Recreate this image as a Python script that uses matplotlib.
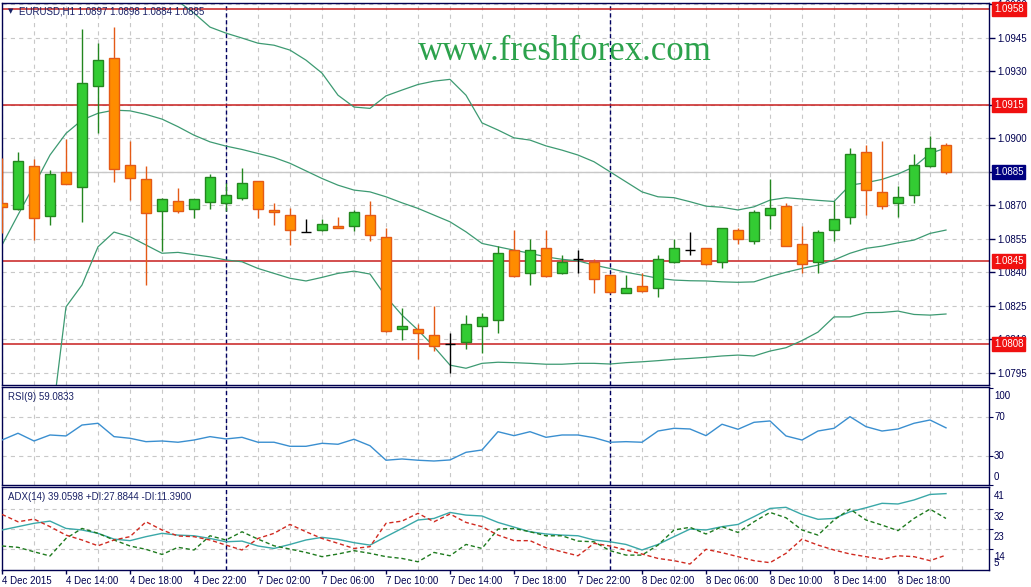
"""
EURUSD H1 chart: candles + Bollinger bands, RSI(9) and ADX(14) sub-windows.
Output: out.png
"""

import numpy as np
import matplotlib
matplotlib.use('Agg')
import matplotlib.pyplot as plt

W, H, DPI = 1031, 587, 100
NAVY = '#000050'
GRID = '#C8C8C8'
UI_FONT = 'Liberation Sans'

plt.rcParams['lines.scale_dashes'] = False
plt.rcParams['font.family'] = [UI_FONT, 'DejaVu Sans']

# ── data ─────────────────────────────────────────────────────────────────────
opens = [1.08711, 1.08684, 1.08876, 1.08653, 1.08849, 1.08783, 1.09235, 1.09358, 1.08879, 1.08816,
         1.08675, 1.08717, 1.08684, 1.08716, 1.08709, 1.08734, 1.08807, 1.08677, 1.08655, 1.08580,
         1.08588, 1.08606, 1.08606, 1.08655, 1.08556, 1.08144, 1.08144, 1.08117, 1.08078, 1.08086,
         1.08158, 1.08185, 1.08499, 1.08395, 1.08507, 1.08395, 1.08458, 1.08446, 1.08386, 1.08306,
         1.08337, 1.08328, 1.08444, 1.08499, 1.08507, 1.08444, 1.08588, 1.08538, 1.08655, 1.08695,
         1.08525, 1.08444, 1.08588, 1.08646, 1.08937, 1.08758, 1.08709, 1.08744, 1.08876, 1.08970]
highs = [1.08910, 1.08940, 1.08906, 1.08858, 1.08996, 1.09489, 1.09428, 1.09499, 1.08987, 1.08876,
         1.08731, 1.08776, 1.08729, 1.08840, 1.08798, 1.08867, 1.08808, 1.08710, 1.08686, 1.08638,
         1.08637, 1.08647, 1.08679, 1.08719, 1.08597, 1.08240, 1.08168, 1.08249, 1.08126, 1.08208,
         1.08216, 1.08519, 1.08589, 1.08547, 1.08589, 1.08476, 1.08499, 1.08458, 1.08387, 1.08387,
         1.08395, 1.08476, 1.08549, 1.08580, 1.08508, 1.08598, 1.08597, 1.08679, 1.08817, 1.08710,
         1.08607, 1.08588, 1.08717, 1.08955, 1.08970, 1.08987, 1.08787, 1.08929, 1.09010, 1.08980]
lows = [1.08577, 1.08680, 1.08544, 1.08613, 1.08794, 1.08626, 1.09025, 1.08804, 1.08723, 1.08343,
        1.08495, 1.08666, 1.08644, 1.08684, 1.08675, 1.08723, 1.08644, 1.08613, 1.08522, 1.08580,
        1.08587, 1.08596, 1.08586, 1.08538, 1.08134, 1.08095, 1.08013, 1.08046, 1.07947, 1.08055,
        1.08037, 1.08126, 1.08377, 1.08343, 1.08377, 1.08394, 1.08395, 1.08306, 1.08306, 1.08305,
        1.08313, 1.08288, 1.08443, 1.08476, 1.08434, 1.08417, 1.08525, 1.08525, 1.08595, 1.08516,
        1.08395, 1.08395, 1.08538, 1.08614, 1.08655, 1.08684, 1.08646, 1.08709, 1.08870, 1.08840]
closes = [1.08693, 1.08898, 1.08644, 1.08840, 1.08796, 1.09247, 1.09350, 1.08863, 1.08823, 1.08666,
          1.08726, 1.08675, 1.08726, 1.08825, 1.08746, 1.08798, 1.08684, 1.08668, 1.08588, 1.08580,
          1.08614, 1.08597, 1.08668, 1.08565, 1.08135, 1.08159, 1.08126, 1.08068, 1.08078, 1.08168,
          1.08198, 1.08485, 1.08384, 1.08498, 1.08384, 1.08446, 1.08458, 1.08368, 1.08313, 1.08328,
          1.08314, 1.08458, 1.08507, 1.08499, 1.08435, 1.08597, 1.08547, 1.08668, 1.08686, 1.08516,
          1.08435, 1.08579, 1.08637, 1.08928, 1.08767, 1.08695, 1.08735, 1.08879, 1.08955, 1.08850]

nan = np.nan
bb_upper = [nan, nan, nan, nan, nan, nan, nan, nan, nan, nan,
            1.09686, 1.09614, 1.09561, 1.09498, 1.09471, 1.09449, 1.09426, 1.09417, 1.09395, 1.09350,
            1.09292, 1.09193, 1.09140, 1.09134, 1.09190, 1.09216, 1.09241, 1.09256, 1.09264, 1.09193,
            1.09069, 1.09037, 1.09002, 1.08992, 1.08966, 1.08947, 1.08925, 1.08895, 1.08850, 1.08805,
            1.08760, 1.08738, 1.08734, 1.08716, 1.08696, 1.08691, 1.08679, 1.08693, 1.08723, 1.08734,
            1.08728, 1.08722, 1.08717, 1.08790, 1.08801, 1.08816, 1.08840, 1.08872, 1.08932, 1.08957]
bb_middle = [1.08522, 1.08657, 1.08789, 1.08925, 1.09022, 1.09082, 1.09112, 1.09126, 1.09123, 1.09107,
             1.09086, 1.09052, 1.09014, 1.08984, 1.08965, 1.08950, 1.08932, 1.08914, 1.08888, 1.08854,
             1.08820, 1.08790, 1.08768, 1.08760, 1.08738, 1.08711, 1.08686, 1.08656, 1.08626, 1.08581,
             1.08529, 1.08514, 1.08499, 1.08485, 1.08469, 1.08458, 1.08451, 1.08432, 1.08417, 1.08400,
             1.08387, 1.08373, 1.08365, 1.08362, 1.08361, 1.08357, 1.08355, 1.08357, 1.08380, 1.08400,
             1.08417, 1.08432, 1.08455, 1.08485, 1.08507, 1.08517, 1.08532, 1.08544, 1.08574, 1.08589]
bb_lower = [nan, nan, nan, 1.07662, 1.08245, 1.08343, 1.08514, 1.08580, 1.08559, 1.08522,
            1.08485, 1.08489, 1.08479, 1.08469, 1.08455, 1.08447, 1.08417, 1.08395, 1.08373, 1.08361,
            1.08377, 1.08395, 1.08405, 1.08392, 1.08290, 1.08208, 1.08141, 1.08066, 1.07984, 1.07970,
            1.07992, 1.07997, 1.07995, 1.07992, 1.07988, 1.07988, 1.07992, 1.07992, 1.07989, 1.07995,
            1.07999, 1.08004, 1.08010, 1.08014, 1.08019, 1.08025, 1.08029, 1.08025, 1.08047, 1.08062,
            1.08094, 1.08132, 1.08200, 1.08200, 1.08219, 1.08220, 1.08226, 1.08211, 1.08208, 1.08213]

rsi = [46.5, 53.5, 45.5, 51.7, 50.7, 62.0, 63.8, 50.0, 48.3, 44.8,
       45.5, 44.2, 46.5, 50.0, 47.6, 49.3, 44.2, 44.2, 40.0, 40.0,
       43.1, 42.1, 47.3, 40.6, 25.6, 26.9, 25.6, 24.8, 25.9, 33.8,
       36.2, 55.1, 51.0, 55.1, 49.3, 51.7, 51.7, 48.9, 44.2, 44.8,
       44.2, 55.8, 58.6, 57.9, 51.0, 62.8, 57.6, 64.8, 66.2, 50.7,
       46.5, 55.8, 58.6, 70.6, 60.3, 55.8, 57.9, 63.8, 67.2, 59.1]

adx = [22.7, 24.2, 25.7, 26.7, 23.4, 22.7, 21.2, 18.6, 17.9, 19.7,
       21.2, 20.4, 20.1, 18.9, 17.4, 17.7, 15.5, 14.4, 16.2, 18.2,
       19.4, 18.5, 17.0, 15.9, 19.7, 23.4, 27.2, 27.9, 30.6, 29.4,
       29.0, 26.1, 24.0, 21.9, 20.9, 20.4, 20.1, 18.2, 17.4, 16.2,
       13.7, 16.2, 19.7, 23.1, 22.7, 24.2, 25.2, 28.7, 32.4, 32.9,
       29.7, 27.5, 27.9, 30.9, 32.7, 34.7, 34.4, 36.2, 38.7, 39.06]
plus_di = [15.5, 14.9, 12.9, 11.0, 18.9, 23.4, 21.2, 18.2, 15.5, 14.0,
           11.7, 14.9, 13.7, 20.1, 18.2, 21.9, 18.6, 15.6, 14.1, 12.6,
           10.7, 11.9, 13.4, 12.2, 10.7, 9.9, 8.4, 12.6, 11.1, 16.2,
           14.4, 23.1, 23.4, 21.9, 20.1, 20.1, 17.7, 17.4, 13.4, 11.4,
           11.4, 15.9, 22.7, 23.9, 20.9, 24.2, 21.6, 26.4, 30.6, 28.2,
           22.7, 20.4, 27.2, 32.1, 27.2, 24.9, 22.4, 27.9, 32.1, 27.88]
minus_di = [29.7, 26.4, 27.6, 24.2, 20.4, 18.2, 15.6, 18.2, 19.7, 26.4,
            22.7, 20.0, 19.7, 18.2, 15.9, 13.7, 18.9, 21.2, 25.2, 21.9,
            18.9, 16.7, 14.4, 15.2, 25.7, 26.7, 30.2, 26.4, 29.9, 26.1,
            24.2, 20.4, 17.9, 17.9, 14.7, 12.9, 11.1, 16.7, 15.5, 13.7,
            11.9, 9.9, 8.9, 7.4, 14.0, 12.5, 10.7, 8.9, 8.0, 12.2,
            18.6, 15.9, 13.7, 11.9, 10.7, 9.5, 11.1, 10.7, 8.9, 11.39]

time_ticks = [0, 4, 8, 12, 16, 20, 24, 28, 32, 36, 40, 44, 48, 52, 56]
time_labels = ['4 Dec 2015', '4 Dec 14:00', '4 Dec 18:00', '4 Dec 22:00',
               '7 Dec 02:00', '7 Dec 06:00', '7 Dec 10:00', '7 Dec 14:00',
               '7 Dec 18:00', '7 Dec 22:00', '8 Dec 02:00', '8 Dec 06:00',
               '8 Dec 10:00', '8 Dec 14:00', '8 Dec 18:00']
day_breaks = [14, 38]

levels = [1.0958, 1.0915, 1.0845, 1.0808]
bid = 1.0885
price_ticks = [1.0795 + 0.0015 * i for i in range(12)]

rsi_ticks = [100, 70, 30, 0]
adx_ticks = [41, 32, 23, 14, 5]


def px_axes(top, bottom, left=1.5, right=989):
    return [left / W, 1 - bottom / H, (right - left) / W, (bottom - top) / H]


fig = plt.figure(figsize=(W / DPI, H / DPI), dpi=DPI)
fig.patch.set_facecolor('white')

ax = fig.add_axes(px_axes(3, 385))
ax_rsi = fig.add_axes(px_axes(387, 485))
ax_adx = fig.add_axes(px_axes(487, 570))

x = np.arange(len(opens))
x_lim = (-0.5 / 16, (989 - 2) / 16)

for a in (ax, ax_rsi, ax_adx):
    a.set_xlim(*x_lim)
    a.set_facecolor('white')
    for s in a.spines.values():
        s.set_color(NAVY)
        s.set_linewidth(1)
    a.set_xticks(np.arange(0, 62, 2), minor=True)
    a.grid(True, which='minor', axis='x', color=GRID, linestyle=(0, (3, 3)), linewidth=0.8)
    a.tick_params(axis='x', which='minor', length=0)
    a.set_axisbelow(True)
    for d in day_breaks:
        a.axvline(d, color='#000060', linestyle=(0, (3, 2)), linewidth=1, zorder=1.5)

# ── main panel ───────────────────────────────────────────────────────────────
ax.set_ylim(1.07895, 1.09606)
ax.yaxis.tick_right()
ax.set_yticks(price_ticks)
# labels that sit fully under a level box are left blank, as on the terminal
hidden = {f'{lv:.4f}' for lv in (1.0915, bid)}
ax.set_yticklabels(['' if f'{p:.4f}' in hidden else f'{p:.4f}' for p in price_ticks])
ax.tick_params(axis='y', direction='out', length=4, width=1, pad=2,
               colors=NAVY, labelsize=7)
ax.set_xticks([])
ax.grid(True, which='major', axis='y', color=GRID, linestyle=(0, (3, 3)), linewidth=0.8)
ax.axhline(bid, color=GRID, linewidth=1, zorder=1.2)

for lv in levels:
    ax.axhline(lv, color='#C81E1E', linewidth=1.1, zorder=1.6)

ax.plot(x, bb_upper, color='#3D9A72', linewidth=0.9, zorder=2)
ax.plot(x, bb_middle, color='#3D9A72', linewidth=0.9, zorder=2)
ax.plot(x, bb_lower, color='#3D9A72', linewidth=0.9, zorder=2)

o, hi, lo, c = map(np.array, (opens, highs, lows, closes))
up = c > o
dn = c < o
dj = c == o
ax.vlines(x[up], lo[up], hi[up], color='#23861F', linewidth=1, zorder=3)
ax.vlines(x[dn], lo[dn], hi[dn], color='#E45A16', linewidth=1, zorder=3)
ax.vlines(x[dj], lo[dj], hi[dj], color='black', linewidth=1, zorder=3)
ax.bar(x[up], c[up] - o[up], bottom=o[up], width=0.6, color='#33CC33',
       edgecolor='#23861F', linewidth=1, zorder=4)
ax.bar(x[dn], o[dn] - c[dn], bottom=c[dn], width=0.6, color='#FF8C00',
       edgecolor='#E45A16', linewidth=1, zorder=4)
ax.hlines(o[dj], x[dj] - 0.3, x[dj] + 0.3, color='black', linewidth=1, zorder=4)

for lv in levels:
    ax.annotate(f'{lv:.4f}', xy=(1, lv), xycoords=('axes fraction', 'data'),
                xytext=(5, 0), textcoords='offset pixels', ha='left', va='center',
                fontsize=7, color='white', zorder=10, annotation_clip=False,
                bbox=dict(boxstyle='square,pad=0.2', facecolor='#F01010', edgecolor='#F01010'))
ax.annotate(f'{bid:.4f}', xy=(1, bid), xycoords=('axes fraction', 'data'),
            xytext=(5, 0), textcoords='offset pixels', ha='left', va='center',
            fontsize=7, color='white', zorder=10, annotation_clip=False,
            bbox=dict(boxstyle='square,pad=0.2', facecolor='#000080', edgecolor='#000080'))

ax.text(17 / 987, 1 - 8.7 / 382, 'EURUSD,H1 1.0897 1.0898 1.0884 1.0885', transform=ax.transAxes,
        ha='left', va='center', fontsize=7, color='#1A2266')
ax.text(9 / 987, 1 - 8.5 / 382, '\u25BC', transform=ax.transAxes, ha='center', va='center',
        fontsize=5, color='#1A2266', family='DejaVu Sans')

fig.text(564.5 / W, 1 - 60 / H, 'www.freshforex.com', ha='center', va='baseline',
         fontsize=25, family='Liberation Serif', color='#2CA24C')

# ── RSI panel ────────────────────────────────────────────────────────────────
ax_rsi.set_ylim(0, 101.3)
ax_rsi.set_xticks([])
ax_rsi.yaxis.tick_right()
ax_rsi.set_yticks(rsi_ticks)
ax_rsi.set_yticklabels([])
ax_rsi.tick_params(axis='y', direction='out', length=3, colors=NAVY)
for lv in (70, 30):
    ax_rsi.axhline(lv, color=GRID, linestyle=(0, (3, 3)), linewidth=0.8, zorder=1)
ax_rsi.plot(x, rsi, color='#3A8FD0', linewidth=1, zorder=3)
rsi_va = {100: ('top', -3), 70: ('center', 0), 30: ('center', 0), 0: ('bottom', 3)}
for t in rsi_ticks:
    va, dy = rsi_va[t]
    ax_rsi.annotate(str(t), xy=(1, t), xycoords=('axes fraction', 'data'),
                    xytext=(5, dy), textcoords='offset pixels', ha='left', va=va,
                    fontsize=7, color=NAVY, annotation_clip=False)
ax_rsi.text(6 / 987, 1 - 10 / 98, 'RSI(9) 59.0833', transform=ax_rsi.transAxes,
            ha='left', va='center', fontsize=7, color='#1A2266')

# ── ADX panel ────────────────────────────────────────────────────────────────
ax_adx.set_ylim(4.7, 42.04)
ax_adx.yaxis.tick_right()
ax_adx.set_yticks(adx_ticks[1:4])
ax_adx.set_yticklabels([])
ax_adx.tick_params(axis='y', direction='out', length=3, colors=NAVY)
for lv in adx_ticks[1:4]:
    ax_adx.axhline(lv, color=GRID, linestyle=(0, (3, 3)), linewidth=0.8, zorder=1)
ax_adx.plot(x, adx, color='#3AA8A8', linewidth=1, zorder=3)
ax_adx.plot(x, plus_di, color='#1E7A1E', linewidth=1, linestyle=(0, (3, 2)), zorder=3)
ax_adx.plot(x, minus_di, color='#D02A20', linewidth=1, linestyle=(0, (3, 2)), zorder=3)
adx_va = {41: ('top', -2), 32: ('top', -3), 23: ('top', -3), 14: ('top', -3), 5: ('bottom', 1)}
for t in adx_ticks:
    va, dy = adx_va[t]
    ax_adx.annotate(str(t), xy=(1, t), xycoords=('axes fraction', 'data'),
                    xytext=(5, dy), textcoords='offset pixels', ha='left', va=va,
                    fontsize=7, color=NAVY, annotation_clip=False)
ax_adx.text(6 / 987, 1 - 10 / 83, 'ADX(14) 39.0598 +DI:27.8844 -DI:11.3900',
            transform=ax_adx.transAxes, ha='left', va='center', fontsize=7, color='#1A2266')

ax_adx.set_xticks(time_ticks)
ax_adx.set_xticklabels(time_labels, ha='left')
ax_adx.tick_params(axis='x', which='major', direction='out', length=3, width=1,
                   pad=1, colors=NAVY, labelsize=7)

fig.savefig('out.png', dpi=DPI)
